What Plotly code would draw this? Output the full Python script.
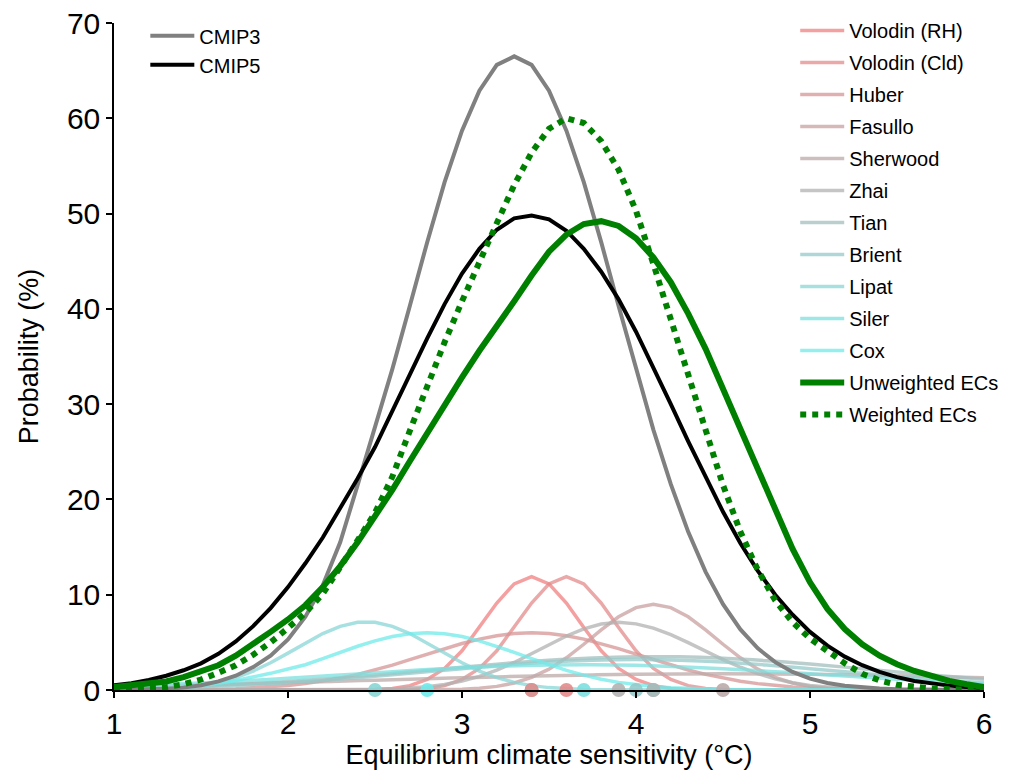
import plotly.graph_objects as go

# ---------------- data ----------------
X_FINE = [1.0, 1.1, 1.2, 1.3, 1.4, 1.5, 1.6, 1.7, 1.8, 1.9,
          2.0, 2.1, 2.2, 2.3, 2.4, 2.5, 2.6, 2.7, 2.8, 2.9,
          3.0, 3.1, 3.2, 3.3, 3.4, 3.5, 3.6, 3.7, 3.8, 3.9,
          4.0, 4.1, 4.2, 4.3, 4.4, 4.5, 4.6, 4.7, 4.8, 4.9,
          5.0, 5.1, 5.2, 5.3, 5.4, 5.5, 5.6, 5.7, 5.8, 5.9, 6.0]
X_COARSE = [1.0, 1.25, 1.5, 1.75, 2.0, 2.25, 2.5, 2.75, 3.0, 3.25, 3.5,
            3.75, 4.0, 4.25, 4.5, 4.75, 5.0, 5.25, 5.5, 5.75, 6.0]

CMIP3 = [0.01, 0.02, 0.05, 0.12, 0.25, 0.5, 0.9, 1.5, 2.4, 3.6,
         5.3, 7.7, 11.0, 15.5, 21.5, 27.6, 33.7, 40.3, 47.0, 53.3,
         58.7, 62.9, 65.6, 66.5, 65.6, 62.9, 58.7, 53.3, 47.0, 40.3,
         33.7, 27.3, 21.6, 16.6, 12.4, 9.0, 6.36, 4.37, 2.92, 1.90,
         1.20, 0.74, 0.44, 0.26, 0.15, 0.08, 0.04, 0.02, 0.01, 0.0, 0.0]
CMIP5 = [0.5, 0.72, 1.05, 1.5, 2.07, 2.8, 3.8, 5.1, 6.7, 8.6,
         10.8, 13.3, 16.0, 19.0, 22.2, 25.5, 29.2, 33.1, 36.9, 40.5,
         43.7, 46.3, 48.3, 49.5, 49.8, 49.4, 48.2, 46.3, 43.9, 41.0,
         37.6, 33.9, 30.0, 26.1, 22.3, 18.7, 15.4, 12.5, 10.0, 7.9,
         6.1, 4.65, 3.5, 2.6, 1.9, 1.35, 0.95, 0.66, 0.46, 0.32, 0.22]
UNWEIGHTED = [0.3, 0.45, 0.65, 0.9, 1.35, 1.9, 2.6, 3.6, 4.8, 6.1,
              7.4, 8.9, 10.8, 13.0, 15.5, 18.2, 21.0, 24.0, 27.0, 29.9,
              32.8, 35.6, 38.1, 40.8, 43.5, 46.0, 47.8, 48.9, 49.2, 48.7,
              47.4, 45.4, 42.8, 39.5, 35.8, 31.6, 27.3, 23.0, 18.7, 14.8,
              11.3, 8.5, 6.4, 4.8, 3.6, 2.7, 2.0, 1.4, 0.95, 0.6, 0.3]
WEIGHTED = [0.05, 0.1, 0.18, 0.3, 0.6, 1.1, 1.8, 2.6, 3.7, 5.0,
            6.5, 8.1, 10.1, 12.8, 15.7, 18.6, 22.4, 27.2, 32.0, 36.5,
            40.8, 45.0, 49.0, 53.0, 56.4, 58.9, 60.0, 59.5, 57.6, 54.6,
            50.3, 44.7, 39.0, 33.3, 27.5, 21.5, 16.6, 12.6, 9.4, 7.1,
            5.4, 4.1, 2.8, 1.7, 1.0, 0.55, 0.3, 0.15, 0.08, 0.04, 0.02]

# individual emergent constraints (fine grid)
VOLODIN_RH = [0, 0, 0, 0, 0, 0, 0, 0, 0, 0,
              0, 0, 0, 0.004, 0.016, 0.056, 0.17, 0.46, 1.10, 2.27,
              4.12, 6.55, 9.13, 11.14, 11.9, 11.14, 9.13, 6.55, 4.12, 2.27,
              1.10, 0.46, 0.17, 0.056, 0.016, 0.004, 0, 0, 0, 0,
              0, 0, 0, 0, 0, 0, 0, 0, 0, 0, 0]
VOLODIN_CLD = [0, 0, 0, 0, 0, 0, 0, 0, 0, 0,
               0, 0, 0, 0, 0, 0.004, 0.016, 0.056, 0.17, 0.46,
               1.10, 2.27, 4.12, 6.55, 9.13, 11.14, 11.9, 11.14, 9.13, 6.55,
               4.12, 2.27, 1.10, 0.46, 0.17, 0.056, 0.016, 0.004, 0, 0,
               0, 0, 0, 0, 0, 0, 0, 0, 0, 0, 0]
HUBER = [0.003, 0.006, 0.011, 0.02, 0.033, 0.055, 0.09, 0.14, 0.22, 0.32,
         0.47, 0.67, 0.92, 1.25, 1.64, 2.10, 2.61, 3.18, 3.76, 4.34,
         4.88, 5.34, 5.70, 5.92, 6.0, 5.92, 5.70, 5.34, 4.88, 4.34,
         3.76, 3.18, 2.61, 2.10, 1.64, 1.25, 0.92, 0.67, 0.47, 0.32,
         0.22, 0.14, 0.09, 0.055, 0.033, 0.02, 0.011, 0.006, 0.003, 0.002, 0.001]
FASULLO = [0, 0, 0, 0, 0, 0, 0, 0, 0, 0,
           0, 0, 0, 0, 0, 0, 0, 0.004, 0.012, 0.032,
           0.078, 0.18, 0.38, 0.73, 1.32, 2.19, 3.38, 4.80, 6.32, 7.69,
           8.65, 9.0, 8.65, 7.69, 6.32, 4.80, 3.38, 2.19, 1.32, 0.73,
           0.38, 0.18, 0.078, 0.032, 0.012, 0.004, 0, 0, 0, 0, 0]
ZHAI = [0, 0, 0, 0, 0, 0, 0, 0, 0, 0,
        0, 0, 0.005, 0.012, 0.026, 0.053, 0.104, 0.194, 0.345, 0.58,
        0.94, 1.43, 2.09, 2.89, 3.80, 4.76, 5.67, 6.42, 6.92, 7.1,
        6.94, 6.50, 5.81, 4.97, 4.07, 3.19, 2.39, 1.71, 1.17, 0.77,
        0.48, 0.29, 0.17, 0.09, 0.05, 0.024, 0.012, 0.005, 0.002, 0.001, 0]
LIPAT = [0.012, 0.029, 0.063, 0.13, 0.25, 0.46, 0.80, 1.30, 1.99, 2.86,
         3.87, 4.93, 5.92, 6.68, 7.10, 7.10, 6.68, 5.92, 4.93, 3.87,
         2.86, 1.99, 1.30, 0.80, 0.46, 0.25, 0.13, 0.063, 0.029, 0.012,
         0.005, 0.002, 0, 0, 0, 0, 0, 0, 0, 0,
         0, 0, 0, 0, 0, 0, 0, 0, 0, 0, 0]
COX = [0.027, 0.049, 0.084, 0.14, 0.23, 0.45, 0.70, 1.0, 1.35, 1.75,
       2.2, 2.65, 3.29, 3.95, 4.59, 5.16, 5.61, 5.90, 6.0, 5.90,
       5.61, 5.16, 4.59, 3.95, 3.29, 2.65, 2.06, 1.56, 1.13, 0.80,
       0.54, 0.36, 0.23, 0.14, 0.084, 0.049, 0.027, 0.015, 0.008, 0.004,
       0.002, 0, 0, 0, 0, 0, 0, 0, 0, 0, 0]

# broad emergent constraints (coarse grid)
SHERWOOD = [0.37, 0.45, 0.55, 0.66, 0.78, 0.90, 1.03, 1.16, 1.28, 1.40, 1.50,
            1.58, 1.65, 1.69, 1.70, 1.69, 1.65, 1.58, 1.50, 1.40, 1.28]
TIAN = [0.17, 0.28, 0.42, 0.62, 0.88, 1.20, 1.57, 1.98, 2.40, 2.79, 3.13,
        3.37, 3.49, 3.48, 3.33, 3.07, 2.72, 2.32, 1.90, 1.49, 1.13]
BRIENT = [0.13, 0.21, 0.34, 0.52, 0.77, 1.07, 1.43, 1.83, 2.24, 2.62, 2.93,
          3.13, 3.20, 3.13, 2.93, 2.62, 2.24, 1.83, 1.43, 1.07, 0.77]
SILER = [0.39, 0.55, 0.74, 0.97, 1.24, 1.52, 1.81, 2.09, 2.33, 2.51, 2.62,
         2.65, 2.59, 2.45, 2.24, 1.98, 1.70, 1.41, 1.13, 0.88, 0.66]

EC_NAMES = ["Volodin (RH)", "Volodin (Cld)", "Huber", "Fasullo", "Sherwood",
            "Zhai", "Tian", "Brient", "Lipat", "Siler", "Cox"]
EC_BEST = [3.4, 3.6, 3.4, 4.1, 4.5, 3.9, 4.1, 4.0, 2.5, 3.7, 2.8]
EC_RGB = [(240, 128, 128), (227, 139, 139), (214, 149, 149), (202, 160, 160),
          (189, 170, 170), (178, 178, 178), (163, 190, 190), (150, 202, 202),
          (138, 213, 213), (125, 223, 223), (112, 234, 234)]

ec_series = [(X_FINE, VOLODIN_RH), (X_FINE, VOLODIN_CLD), (X_FINE, HUBER),
             (X_FINE, FASULLO), (X_COARSE, SHERWOOD), (X_FINE, ZHAI),
             (X_COARSE, TIAN), (X_COARSE, BRIENT), (X_FINE, LIPAT),
             (X_COARSE, SILER), (X_FINE, COX)]

FONT = "Liberation Sans, Arial, Helvetica, sans-serif"

fig = go.Figure()

for i, (name, (xs, ys), rgb) in enumerate(zip(EC_NAMES, ec_series, EC_RGB)):
    col = "rgba(%d,%d,%d,0.75)" % rgb
    fig.add_trace(go.Scatter(
        x=xs, y=ys, mode="lines", name=name,
        line=dict(color=col, width=3.5, shape="spline" if xs is X_COARSE else "linear"),
        legend="legend", legendgroup="g%d" % i, legendrank=i + 1))

fig.add_trace(go.Scatter(x=X_FINE, y=CMIP3, mode="lines", name="CMIP3",
                         line=dict(color="#808080", width=4),
                         legend="legend2", legendgroup="c3"))
fig.add_trace(go.Scatter(x=X_FINE, y=CMIP5, mode="lines", name="CMIP5",
                         line=dict(color="black", width=4),
                         legend="legend2", legendgroup="c5"))
fig.add_trace(go.Scatter(x=X_FINE, y=UNWEIGHTED, mode="lines", name="Unweighted ECs",
                         line=dict(color="green", width=6),
                         legend="legend", legendgroup="uw", legendrank=20))
fig.add_trace(go.Scatter(x=X_FINE, y=WEIGHTED, mode="lines", name="Weighted ECs",
                         line=dict(color="green", width=6, dash="6px,6px"),
                         legend="legend", legendgroup="w", legendrank=21))

# best-estimate dots on the x axis
fig.add_trace(go.Scatter(
    x=EC_BEST, y=[0] * len(EC_BEST), mode="markers", showlegend=False,
    marker=dict(size=14, color=["rgba(%d,%d,%d,0.9)" % c for c in EC_RGB],
                line=dict(width=0)),
    cliponaxis=False))

fig.update_layout(
    width=1009, height=776,
    margin=dict(l=106, r=33, t=15, b=94, autoexpand=False),
    plot_bgcolor="white", paper_bgcolor="white",
    font=dict(family=FONT, color="black"),
    xaxis=dict(range=[1, 6], tickvals=[1, 2, 3, 4, 5, 6], showgrid=False, zeroline=False,
               showline=True, linecolor="black", linewidth=1.5, ticks="outside",
               ticklen=6, tickwidth=1.5, tickcolor="black", tickfont=dict(size=30),
               automargin=False, ticklabeloverflow="allow",
               title=dict(text="Equilibrium climate sensitivity (°C)", font=dict(size=27),
                          standoff=5)),
    yaxis=dict(range=[0, 70], dtick=10, showgrid=False, zeroline=False,
               showline=True, linecolor="black", linewidth=1.5, ticks="outside",
               ticklen=6, tickwidth=1.5, tickcolor="black", tickfont=dict(size=30),
               automargin=False, ticklabeloverflow="allow",
               title=dict(text="Probability (%)", font=dict(size=27), standoff=20)),
    legend=dict(x=0.783, y=1.018, xanchor="left", yanchor="top",
                font=dict(size=20, family=FONT), bgcolor="rgba(0,0,0,0)",
                traceorder="grouped", tracegroupgap=3, itemwidth=44, maxheight=800),
    legend2=dict(x=0.036, y=1.01, xanchor="left", yanchor="top",
                 font=dict(size=20, family=FONT), bgcolor="rgba(0,0,0,0)",
                 traceorder="grouped", tracegroupgap=0, itemwidth=44, maxheight=800),
)

fig.write_html("out.html")
